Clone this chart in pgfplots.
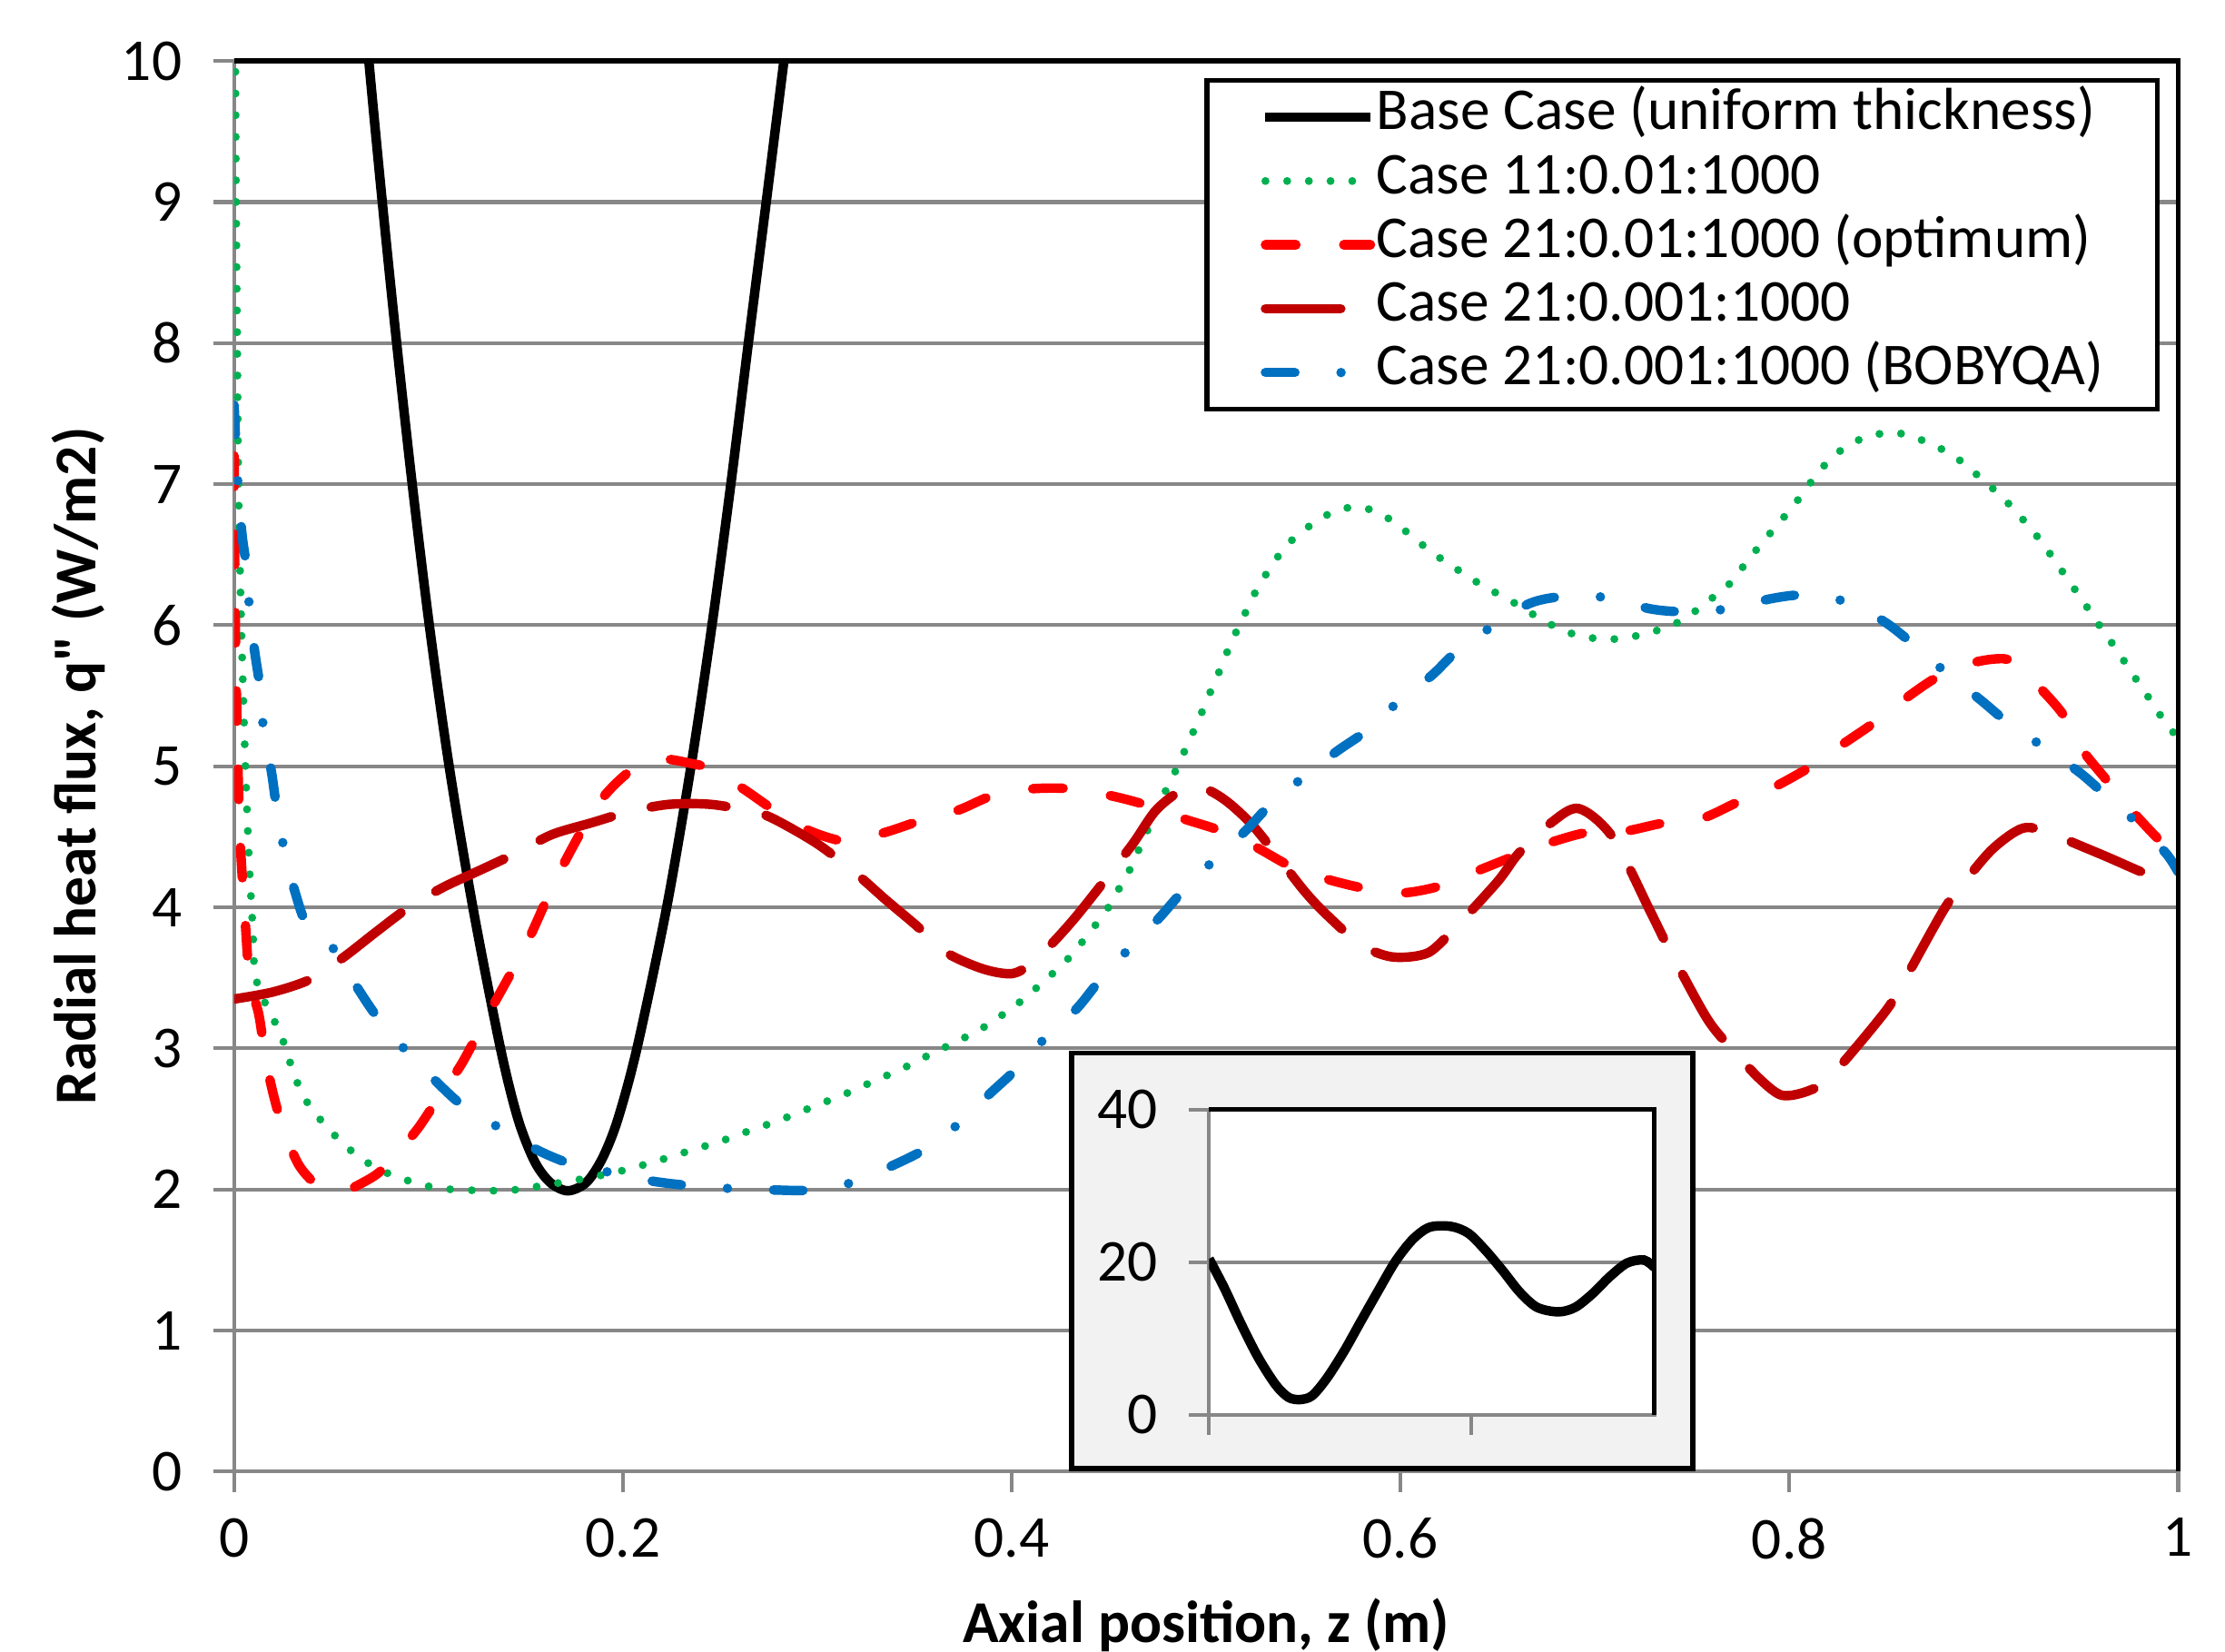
\documentclass[border=0pt]{standalone}
\usepackage{fontspec}
\setmainfont{Carlito}[Ligatures=TeXOff]
\usepackage{pgfplots}
\pgfplotsset{compat=1.18}

\definecolor{xlgreen}{HTML}{00B050}
\definecolor{xlred}{HTML}{FF0000}
\definecolor{xldred}{HTML}{C00000}
\definecolor{xlblue}{HTML}{0070C0}
\definecolor{gridgray}{HTML}{878787}
\definecolor{insetbg}{HTML}{F2F2F2}

\newcommand{\chartfont}{\fontsize{11.9}{14}\selectfont}

\pgfplotsset{
  basecase/.style={black, line width=1.9pt, smooth, tension=0.5},
  case11/.style={xlgreen, line width=1.6pt, line cap=round, dash pattern=on 0pt off 4.35pt, smooth, tension=0.5},
  optimum/.style={xlred, line width=1.9pt, line cap=round, dash pattern=on 6.1pt off 9.6pt, smooth, tension=0.5},
  fine/.style={xldred, line width=1.9pt, line cap=round, dash pattern=on 15.1pt off 8.2pt, smooth, tension=0.5},
  bobyqa/.style={xlblue, line width=1.9pt, line cap=round, dash pattern=on 5.9pt off 9.25pt on 0pt off 9.25pt, smooth, tension=0.5},
}

\begin{document}
\begin{tikzpicture}
\begin{axis}[
  name=main,
  scale only axis,
  width=13.7cm, height=9.94cm,
  xmin=0, xmax=1, ymin=0, ymax=10,
  xtick={0,0.2,0.4,0.6,0.8,1},
  ytick={0,1,2,3,4,5,6,7,8,9,10},
  ymajorgrids,
  grid style={gridgray, line width=0.75pt},
  axis line style={gridgray, line width=0.75pt},
  tick style={gridgray, line width=0.75pt},
  tick pos=left, tick align=outside,
  major tick length=0.145cm,
  /pgf/number format/assume math mode=true,
  tick label style={font=\chartfont, black},
  yticklabel style={xshift=-0.1cm},
  xticklabel style={yshift=-0.06cm},
  clip mode=individual,
  every axis y label/.style={at={(axis description cs:-0.0803,0.5)}, rotate=90, anchor=center, font=\chartfont\bfseries},
  every axis x label/.style={at={(axis description cs:0.5,-0.1087)}, anchor=center, font=\chartfont\bfseries},
  xlabel={Axial position, z (m)},
  ylabel={Radial heat flux, q" (W/m2)},
  legend cell align=left,
  legend image code/.code={\draw[#1] (0cm,0cm) -- (0.74cm,0cm);},
  legend style={at={(0.9905,0.988)}, anchor=north east, draw=black, line width=1pt,
    fill=white, inner xsep=0.38cm, inner ysep=0.08cm, row sep=2.6pt,
    font=\chartfont,
    nodes={inner sep=0pt, text height=7.6pt, text depth=2.6pt},
    /tikz/every odd column/.append style={column sep=0.01cm}},
]

% Base Case (uniform thickness)
\addplot[basecase] coordinates {
(0.063,11)(0.0693,10)(0.0762,9)(0.0836,8)(0.0916,7)(0.1004,6)(0.1106,5)
(0.1228,4)(0.137,3)(0.146,2.5)(0.1545,2.2)(0.1625,2.05)(0.1716,1.99)
(0.1812,2.05)(0.1894,2.22)(0.1972,2.49)(0.2072,3)(0.2225,4)(0.235,5)
(0.2458,6)(0.2555,7)(0.2645,8)(0.2737,9)(0.2828,10)(0.292,11)
};
\addlegendentry{Base Case (uniform thickness)}

% Case 11:0.01:1000
\addplot[case11] coordinates {
(0.0003,11)(0.0006,10)(0.001,9)(0.0016,8)(0.0022,7)(0.0037,6)(0.0058,5)
(0.0078,4.3)(0.0096,3.85)(0.0107,3.53)(0.015,3.35)(0.0205,3.2)(0.026,3.024)
(0.0294,2.874)(0.0334,2.728)(0.0389,2.589)(0.0462,2.466)(0.054,2.352)
(0.0625,2.249)(0.0722,2.159)(0.0825,2.095)(0.0932,2.047)(0.1046,2.009)
(0.1155,1.998)(0.1275,1.992)(0.1384,1.992)(0.1498,2.005)(0.161,2.035)
(0.1723,2.056)(0.1836,2.088)(0.1941,2.114)(0.2055,2.155)(0.2167,2.198)
(0.2276,2.245)(0.2385,2.292)(0.2494,2.337)(0.26,2.391)(0.2708,2.443)
(0.2815,2.496)(0.2922,2.555)(0.3029,2.614)(0.3137,2.673)(0.3244,2.739)
(0.3346,2.801)(0.3448,2.864)(0.355,2.936)(0.3652,3.005)(0.3754,3.074)
(0.3855,3.149)(0.3949,3.235)(0.4043,3.33)(0.4128,3.43)(0.4213,3.534)
(0.4294,3.642)(0.4368,3.764)(0.4438,3.888)(0.4507,4.02)(0.4562,4.158)
(0.4616,4.29)(0.4662,4.437)(0.4709,4.578)(0.4806,4.868)(0.4856,5.005)
(0.4903,5.153)(0.4949,5.291)(0.4995,5.439)(0.5038,5.58)(0.5085,5.728)
(0.5127,5.876)(0.5178,6.017)(0.5224,6.155)(0.5278,6.297)(0.534,6.425)
(0.5406,6.556)(0.5495,6.665)(0.5588,6.756)(0.5689,6.822)(0.5801,6.835)
(0.591,6.78)(0.6007,6.687)(0.6092,6.592)(0.6181,6.497)(0.6278,6.408)
(0.6375,6.32)(0.6471,6.244)(0.6568,6.172)(0.6665,6.09)(0.677,6.007)
(0.6878,5.942)(0.6987,5.909)(0.7103,5.902)(0.7215,5.925)(0.7324,5.965)
(0.7432,6.024)(0.7529,6.113)(0.7614,6.205)(0.7699,6.303)(0.7769,6.428)
(0.7839,6.55)(0.7913,6.671)(0.799,6.796)(0.806,6.917)(0.8126,7.042)
(0.8203,7.167)(0.8292,7.266)(0.8389,7.331)(0.8505,7.364)(0.8614,7.348)
(0.8718,7.289)(0.8823,7.22)(0.8912,7.131)(0.8997,7.026)(0.9086,6.921)
(0.9164,6.806)(0.9241,6.687)(0.9311,6.563)(0.9377,6.435)(0.9443,6.303)
(0.9505,6.182)(0.957,6.047)(0.9636,5.919)(0.9702,5.787)(0.9764,5.656)
(0.983,5.525)(0.9892,5.393)(0.9958,5.268)(1.0,5.2)
};
\addlegendentry{Case 11:0.01:1000}

% Case 21:0.01:1000 (optimum)
\addplot[optimum] coordinates {
(0,7.2)(0.0003,6.5)(0.0008,5.8)(0.0018,5.1)(0.003,4.5)(0.0057,3.9)
(0.008,3.49)(0.0127,3.24)(0.0158,2.96)(0.0197,2.7)(0.0252,2.43)(0.033,2.18)
(0.041,2.05)(0.0485,2.0)(0.057,1.99)(0.0664,2.05)(0.0745,2.12)(0.0828,2.245)
(0.0944,2.43)(0.1063,2.676)(0.117,2.89)(0.131,3.25)(0.15,3.73)(0.167,4.24)
(0.187,4.73)(0.205,4.98)(0.22,5.05)(0.235,5.02)(0.2466,4.976)(0.2632,4.828)
(0.29,4.58)(0.3148,4.467)(0.335,4.532)(0.353,4.614)(0.3727,4.69)(0.3906,4.795)
(0.41,4.84)(0.43,4.841)(0.4507,4.792)(0.469,4.726)(0.4883,4.628)(0.5069,4.546)
(0.5251,4.431)(0.5445,4.283)(0.562,4.2)(0.5813,4.135)(0.6007,4.102)(0.62,4.15)
(0.638,4.25)(0.6588,4.365)(0.6743,4.447)(0.6956,4.53)(0.715,4.539)(0.7343,4.595)
(0.7545,4.628)(0.773,4.743)(0.7905,4.841)(0.8099,4.989)(0.8253,5.137)
(0.8428,5.301)(0.8583,5.466)(0.8749,5.623)(0.8912,5.722)(0.905,5.76)
(0.9144,5.745)(0.9272,5.58)(0.9408,5.367)(0.9505,5.12)(0.9629,4.907)
(0.9745,4.71)(0.99,4.48)(1.0,4.35)
};
\addlegendentry{Case 21:0.01:1000 (optimum)}

% Case 21:0.001:1000
\addplot[fine] coordinates {
(0,3.35)(0.02,3.4)(0.0393,3.49)(0.0562,3.645)(0.0725,3.82)(0.0889,3.99)
(0.107,4.138)(0.126,4.26)(0.1452,4.385)(0.1635,4.516)(0.184,4.6)(0.2037,4.68)
(0.2238,4.73)(0.245,4.73)(0.2667,4.68)(0.278,4.624)(0.3,4.45)(0.3196,4.243)
(0.335,4.056)(0.351,3.87)(0.3665,3.678)(0.3853,3.563)(0.4,3.53)(0.41,3.6)
(0.4205,3.74)(0.4352,3.97)(0.4612,4.43)(0.475,4.7)(0.4922,4.86)(0.5077,4.78)
(0.5251,4.562)(0.5503,4.119)(0.5639,3.922)(0.58,3.73)(0.5949,3.65)(0.61,3.66)
(0.62,3.74)(0.649,4.168)(0.6607,4.382)(0.6775,4.6)(0.6917,4.7)(0.7091,4.497)
(0.7285,3.97)(0.7374,3.724)(0.7575,3.215)(0.7711,2.985)(0.785,2.78)
(0.7963,2.667)(0.81,2.7)(0.8215,2.805)(0.8486,3.248)(0.8583,3.462)
(0.8796,3.987)(0.8912,4.2)(0.905,4.42)(0.9203,4.562)(0.935,4.53)(0.9435,4.473)
(0.963,4.36)(0.9823,4.244)(1.0,4.15)
};
\addlegendentry{Case 21:0.001:1000}

% Case 21:0.001:1000 (BOBYQA)
\addplot[bobyqa] coordinates {
(0,7.56)(0.0015,7.1)(0.004,6.65)(0.0065,6.4)(0.0079,6.12)(0.0105,5.82)
(0.0135,5.54)(0.0152,5.25)(0.0192,4.96)(0.022,4.69)(0.0259,4.4)(0.0313,4.11)
(0.038,3.86)(0.0522,3.69)(0.0634,3.43)(0.0742,3.21)(0.0881,2.988)(0.1037,2.768)
(0.1176,2.594)(0.1364,2.437)(0.1546,2.289)(0.1726,2.184)(0.1943,2.118)
(0.215,2.059)(0.235,2.026)(0.256,2.006)(0.278,1.996)(0.297,1.996)(0.3188,2.052)
(0.3383,2.167)(0.3558,2.289)(0.373,2.47)(0.3885,2.676)(0.4027,2.857)
(0.4174,3.077)(0.4333,3.28)(0.4457,3.49)(0.4604,3.708)(0.4755,3.92)
(0.4883,4.12)(0.5038,4.332)(0.5205,4.546)(0.5329,4.727)(0.5495,4.917)
(0.567,5.104)(0.5825,5.252)(0.5987,5.456)(0.6162,5.646)(0.6297,5.827)
(0.6471,5.991)(0.6665,6.155)(0.6847,6.205)(0.7064,6.195)(0.7285,6.116)
(0.7459,6.096)(0.7684,6.116)(0.7905,6.188)(0.8079,6.214)(0.8304,6.162)
(0.8497,6.017)(0.8641,5.86)(0.8807,5.663)(0.8982,5.472)(0.9125,5.308)
(0.9307,5.137)(0.9493,4.956)(0.9629,4.792)(0.979,4.595)(0.9939,4.38)(1.0,4.25)
};
\addlegendentry{Case 21:0.001:1000 (BOBYQA)}

% black top and right border of the plot area
\draw[black, line width=1pt] (rel axis cs:0,1) -- (rel axis cs:1,1) -- (rel axis cs:1,0);

% inset frame
\fill[insetbg] (axis cs:0.4307,0.02) rectangle (axis cs:0.7504,2.968);
\draw[black, line width=1pt] (axis cs:0.4307,0.02) rectangle (axis cs:0.7504,2.968);
\coordinate (insetSW) at (axis cs:0.5015,0.402);
\end{axis}

\begin{axis}[
  at={(insetSW)}, anchor=south west,
  scale only axis,
  width=3.14cm, height=2.15cm,
  xmin=0, xmax=0.85, ymin=0, ymax=40,
  xtick={0,0.5}, xticklabels={},
  ytick={0,20,40},
  axis background/.style={fill=white},
  ymajorgrids,
  grid style={gridgray, line width=0.75pt},
  axis line style={gridgray, line width=0.75pt},
  tick style={gridgray, line width=0.75pt},
  tick pos=left, tick align=outside,
  major tick length=0.14cm,
  /pgf/number format/assume math mode=true,
  tick label style={font=\chartfont, black},
  yticklabel style={xshift=-0.1cm},
  clip mode=individual,
]
\addplot[basecase] coordinates {
(0,20.46)(0.0286,16.7)(0.0612,11.9)(0.0935,7.55)(0.1267,3.97)(0.1513,2.3)
(0.1734,2.0)(0.1964,2.5)(0.2244,4.77)(0.2576,8.34)(0.2899,12.3)(0.323,16.3)
(0.3553,20.1)(0.3885,23.0)(0.4208,24.6)(0.4616,24.7)(0.4947,23.8)(0.527,21.6)
(0.5602,18.9)(0.5925,16.1)(0.6256,14.1)(0.6664,13.5)(0.6987,14.1)(0.7319,15.9)
(0.7642,18.1)(0.7973,19.9)(0.8296,20.3)(0.85,19.3)
};
\draw[black, line width=0.9pt] (rel axis cs:0,1) -- (rel axis cs:1,1) -- (rel axis cs:1,0);
\end{axis}

\pgfresetboundingbox
\path ([shift={(-1.65cm,-1.27cm)}]main.south west) rectangle ([shift={(0.33cm,0.43cm)}]main.north east);
\end{tikzpicture}
\end{document}
